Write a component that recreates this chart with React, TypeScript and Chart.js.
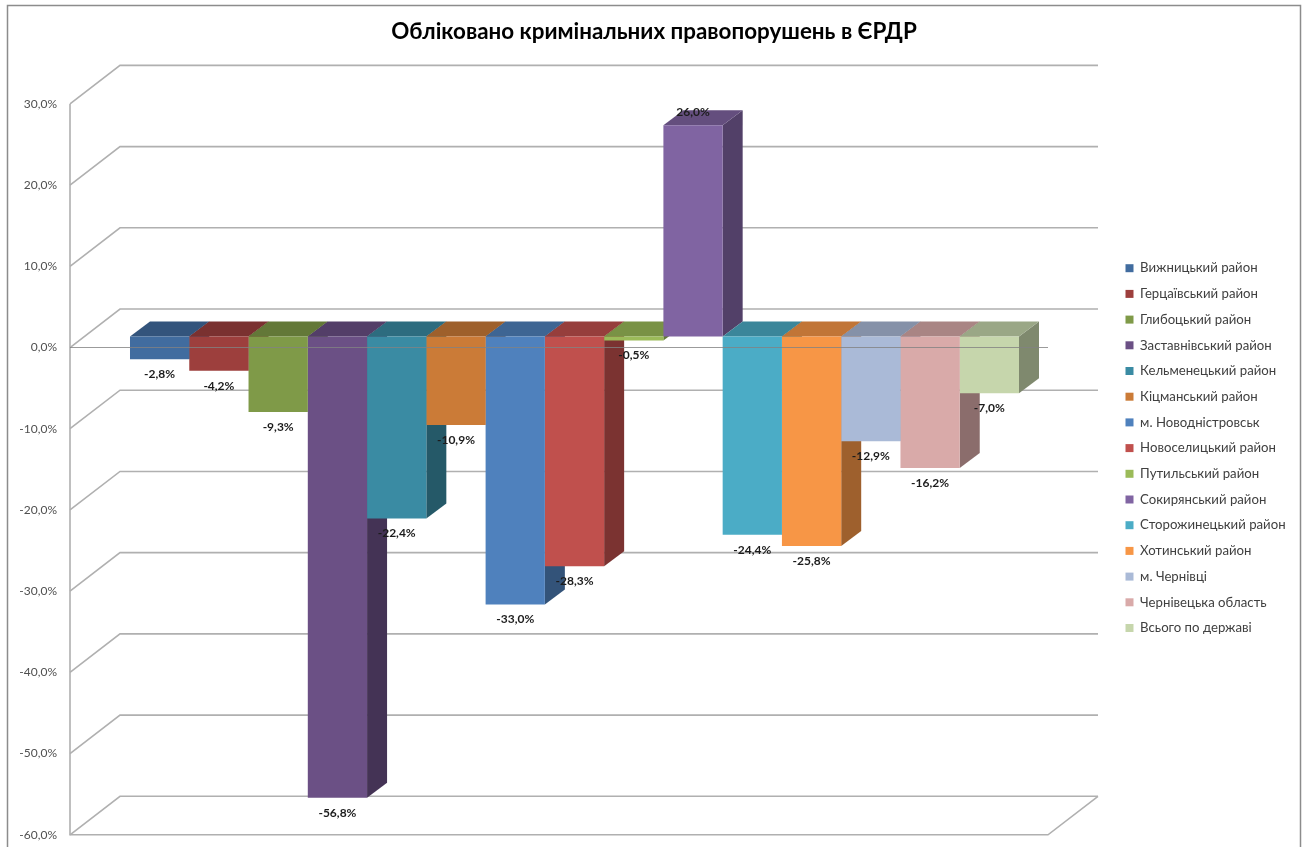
import React, { useEffect, useRef } from "react";
import { Chart, registerables } from "chart.js";

Chart.register(...registerables);

const titleText = "Обліковано кримінальних правопорушень в ЄРДР";
const districts = [
  "Вижницький район", "Герцаївський район", "Глибоцький район", "Заставнівський район",
  "Кельменецький район", "Кіцманський район", "м. Новодністровськ", "Новоселицький район",
  "Путильський район", "Сокирянський район", "Сторожинецький район", "Хотинський район",
  "м. Чернівці", "Чернівецька область", "Всього по державі",
];
const changes = [-2.8, -4.2, -9.3, -56.8, -22.4, -10.9, -33.0, -28.3, -0.5, 26.0, -24.4, -25.8, -12.9, -16.2, -7.0];
const palette = [
  "#416c9f", "#9d3f3d", "#7f9a48", "#6b5085", "#3a8ba3", "#cb7b37", "#4f81bd", "#c0504d",
  "#9bbb59", "#8064a2", "#4bacc6", "#f79646", "#aabad7", "#d9aaa9", "#c6d6ac",
];

const FONT = "Lato, 'Open Sans', sans-serif";
const WALL_DX = 50;
const WALL_DY = 38.5;
const BAR_SHIFT_X = 15.5;
const BAR_SHIFT_Y = -11;
const BAR_DX = 20;
const BAR_DY = 15;
const GRID = "#b0b0b0";

const pct = (v: number) => v.toFixed(1).replace(".", ",") + "%";

function shade(hex: string, k: number) {
  const n = parseInt(hex.slice(1), 16);
  const r = Math.round(((n >> 16) & 255) * k);
  const g = Math.round(((n >> 8) & 255) * k);
  const b = Math.round((n & 255) * k);
  return `rgb(${r},${g},${b})`;
}

function poly(ctx: CanvasRenderingContext2D, pts: number[][], fill: string) {
  ctx.beginPath();
  pts.forEach(([x, y], i) => (i ? ctx.lineTo(x, y) : ctx.moveTo(x, y)));
  ctx.closePath();
  ctx.fillStyle = fill;
  ctx.fill();
}

const scene3d = {
  id: "scene3d",
  afterLayout(chart: any) {
    const lg = chart.legend;
    const pad = lg.options.labels.padding;
    lg.left = 1125.5 - pad;
    lg.right = 1300;
    lg.top = 261.6 - pad;
    lg.bottom = 847;
    chart.titleBlock.left = 0;
    chart.titleBlock.right = chart.width + 1;
  },
  beforeDraw(chart: any) {
    const { ctx, chartArea: a, scales } = chart;
    const y = scales.y;
    ctx.save();
    ctx.fillStyle = "#ffffff";
    ctx.fillRect(0, 0, chart.width, chart.height);
    ctx.strokeStyle = "#8c8c8c";
    ctx.lineWidth = 1.5;
    ctx.strokeRect(7.5, 5.5, 1293, 900);
    ctx.strokeStyle = GRID;
    ctx.lineWidth = 1.6;
    y.ticks.forEach((t: any) => {
      const p = y.getPixelForValue(t.value);
      ctx.beginPath();
      ctx.moveTo(a.left, p);
      ctx.lineTo(a.left + WALL_DX, p - WALL_DY);
      ctx.lineTo(a.right + WALL_DX, p - WALL_DY);
      ctx.stroke();
    });
    ctx.beginPath();
    ctx.moveTo(a.left, a.top);
    ctx.lineTo(a.left, a.bottom);
    ctx.lineTo(a.right, a.bottom);
    ctx.lineTo(a.right + WALL_DX, a.bottom - WALL_DY);
    ctx.stroke();
    ctx.restore();
  },
  beforeDatasetsDraw(chart: any) {
    const { ctx } = chart;
    ctx.save();
    ctx.translate(BAR_SHIFT_X, BAR_SHIFT_Y);
    chart.data.datasets.forEach((ds: any, i: number) => {
      const el = chart.getDatasetMeta(i).data[0];
      const hw = el.width / 2;
      const l = el.x - hw;
      const r = el.x + hw;
      const top = Math.min(el.y, el.base);
      const bot = Math.max(el.y, el.base);
      poly(ctx, [[r, top], [r + BAR_DX, top - BAR_DY], [r + BAR_DX, bot - BAR_DY], [r, bot]], shade(palette[i], 0.64));
      poly(ctx, [[l, top], [l + BAR_DX, top - BAR_DY], [r + BAR_DX, top - BAR_DY], [r, top]], shade(palette[i], 0.78));
    });
  },
  afterDatasetsDraw(chart: any) {
    const { ctx, chartArea: a, scales } = chart;
    ctx.restore();
    ctx.save();
    const zero = scales.y.getPixelForValue(0);
    ctx.strokeStyle = "rgba(130,130,130,0.8)";
    ctx.lineWidth = 1.2;
    ctx.beginPath();
    ctx.moveTo(a.left, zero);
    ctx.lineTo(a.right, zero);
    ctx.stroke();
    ctx.font = `bold 12px ${FONT}`;
    ctx.fillStyle = "#1c1c1c";
    ctx.textAlign = "center";
    ctx.textBaseline = "middle";
    chart.data.datasets.forEach((ds: any, i: number) => {
      const el = chart.getDatasetMeta(i).data[0];
      const v = ds.data[0];
      const ly = el.y + BAR_SHIFT_Y + (v < 0 ? 15 : -13);
      ctx.fillText(pct(v), el.x + BAR_SHIFT_X, ly);
    });
    ctx.restore();
  },
};

export default function App() {
  const ref = useRef<HTMLCanvasElement>(null);
  useEffect(() => {
    document.body.style.margin = "0";
    const chart = new Chart(ref.current!, {
      type: "bar",
      data: {
        labels: [""],
        datasets: districts.map((name, i) => ({
          label: name,
          data: [changes[i]],
          backgroundColor: palette[i],
          borderWidth: 0,
          clip: false as any,
          categoryPercentage: 0.909,
          barPercentage: 1,
        })),
      },
      options: {
        responsive: false,
        animation: false,
        events: [],
        layout: { padding: { left: 0, right: 259, top: 0, bottom: 5 } },
        plugins: {
          title: {
            display: true,
            text: titleText,
            color: "#000000",
            font: { family: FONT, size: 22.4, weight: "bold" },
            padding: { top: 18, bottom: 59 },
          },
          legend: {
            position: "chartArea",
            align: "start",
            labels: {
              boxWidth: 8,
              boxHeight: 8,
              padding: 12.5,
              color: "#404040",
              font: { family: FONT, size: 13.2 },
              sort: (a: any, b: any) => a.datasetIndex - b.datasetIndex,
            },
          },
          tooltip: { enabled: false },
        },
        scales: {
          x: { display: false, grid: { display: false } },
          y: {
            min: -60,
            max: 30,
            afterFit: (s: any) => { s.width = 70; },
            grid: { display: false },
            border: { display: false },
            ticks: {
              stepSize: 10,
              padding: 5,
              color: "#505050",
              font: { family: FONT, size: 12 },
              callback: (v: any) => pct(Number(v)),
            },
          },
        },
      },
      plugins: [scene3d],
    } as any);
    return () => chart.destroy();
  }, []);
  return <canvas ref={ref} width={1307} height={847} style={{ display: "block" }} />;
}
